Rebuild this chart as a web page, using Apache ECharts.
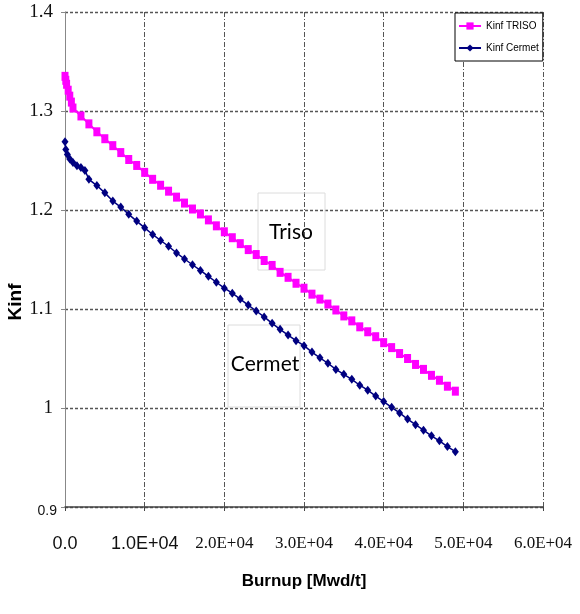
<!DOCTYPE html>
<html>
<head>
<meta charset="utf-8">
<script src="https://cdn.jsdelivr.net/npm/echarts@6/dist/echarts.min.js"></script>
<style>
html,body{margin:0;padding:0;background:#fff;}
#chart{width:580px;height:614px;}
</style>
</head>
<body>
<div id="chart"></div>
<script>
// ---- data ----
const burnupTriso = [0,100,200,400,600,800,1000,2000,3000,4000,5000,6000,7000,8000,9000,10000,11000,12000,13000,14000,15000,16000,17000,18000,19000,20000,21000,22000,23000,24000,25000,26000,27000,28000,29000,30000,31000,32000,33000,34000,35000,36000,37000,38000,39000,40000,41000,42000,43000,44000,45000,46000,47000,48000,49000];
const kinfTriso = [1.335,1.331,1.327,1.321,1.315,1.309,1.303,1.295,1.287,1.279,1.272,1.265,1.258,1.251,1.245,1.238,1.231,1.225,1.219,1.213,1.207,1.201,1.196,1.190,1.184,1.178,1.172,1.166,1.160,1.155,1.149,1.144,1.137,1.132,1.126,1.121,1.115,1.110,1.105,1.099,1.093,1.088,1.082,1.077,1.072,1.066,1.061,1.055,1.050,1.044,1.039,1.033,1.028,1.022,1.017];
const burnupCermet = [0,100,300,600,1000,1500,2000,2500,3000,4000,5000,6000,7000,8000,9000,10000,11000,12000,13000,14000,15000,16000,17000,18000,19000,20000,21000,22000,23000,24000,25000,26000,27000,28000,29000,30000,31000,32000,33000,34000,35000,36000,37000,38000,39000,40000,41000,42000,43000,44000,45000,46000,47000,48000,49000];
const kinfCermet = [1.269,1.261,1.256,1.2515,1.248,1.2447,1.243,1.240,1.231,1.2247,1.2173,1.209,1.203,1.1956,1.1888,1.182,1.1753,1.1692,1.1634,1.1566,1.1505,1.1447,1.139,1.133,1.127,1.121,1.116,1.110,1.104,1.098,1.092,1.0855,1.0795,1.0737,1.068,1.063,1.0565,1.0507,1.0452,1.039,1.034,1.029,1.023,1.018,1.012,1.0065,1.0007,0.995,0.9888,0.9831,0.9776,0.9719,0.9668,0.961,0.9559];
const seriesNames = ['Kinf TRISO','Kinf Cermet'];
const xTickLabels = ['0.0','1.0E+04','2.0E+04','3.0E+04','4.0E+04','5.0E+04','6.0E+04'];
const yTickLabels = ['0.9','1','1.1','1.2','1.3','1.4'];
const xAxisTitle = 'Burnup [Mwd/t]';
const yAxisTitle = 'Kinf';
const noteTriso = 'Triso';
const noteCermet = 'Cermet';

const zip = (a, b) => a.map((v, i) => [v, b[i]]);

const chart = echarts.init(document.getElementById('chart'), null, {renderer: 'canvas'});
const serif = "'Liberation Serif','DejaVu Serif',serif";
const sans = "'Liberation Sans',Arial,sans-serif";

const option = {
  animation: false,
  backgroundColor: '#ffffff',
  grid: {left: 65, right: 37, top: 12, bottom: 107, containLabel: false, outerBoundsMode: 'none'},
  legend: {
    orient: 'vertical',
    left: 455, top: 13,
    padding: [8, 4, 8, 3],
    itemGap: 12,
    itemWidth: 22, itemHeight: 9,
    backgroundColor: '#fff',
    borderColor: '#000', borderWidth: 1,
    textStyle: {fontFamily: sans, fontSize: 10, color: '#000'},
    data: seriesNames
  },
  xAxis: {
    type: 'value', min: 0, max: 60000, interval: 10000,
    name: xAxisTitle, nameLocation: 'middle', nameGap: 66,
    nameTextStyle: {fontFamily: sans, fontWeight: 'bold', fontSize: 17, color: '#000'},
    axisLine: {show: true, lineStyle: {color: '#444', width: 1.5}},
    axisTick: {show: true, length: 4, lineStyle: {color: '#444'}},
    splitLine: {show: true, lineStyle: {color: '#555', width: 1, type: [5, 2, 1, 2]}},
    axisLabel: {
      margin: 28,
      formatter: function (v) {
        const i = Math.round(v / 10000);
        const t = xTickLabels[i];
        return (i <= 1) ? '{s|' + t + '}' : '{r|' + t + '}';
      },
      rich: {
        s: {fontFamily: sans, fontSize: 18, color: '#111'},
        r: {fontFamily: serif, fontSize: 17, color: '#111'}
      }
    }
  },
  yAxis: {
    type: 'value', min: 0.9, max: 1.4, interval: 0.1,
    axisLine: {show: true, lineStyle: {color: '#888', width: 1}},
    axisTick: {show: true, length: 4, lineStyle: {color: '#888'}},
    splitLine: {show: true, lineStyle: {color: '#555', width: 1.3, type: [3, 2]}},
    axisLabel: {
      margin: 8,
      formatter: function (v) {
        const i = Math.round((v - 0.9) * 10);
        const t = yTickLabels[i];
        return i === 0 ? '{s|' + t + '}' : '{r|' + t + '}';
      },
      rich: {
        s: {fontFamily: sans, fontSize: 14, color: '#111', padding: [8,0,0,0]},
        r: {fontFamily: serif, fontSize: 19, color: '#111', padding: [0,4,0,0]}
      }
    }
  },
  series: [
    {
      name: seriesNames[0], type: 'line',
      data: zip(burnupTriso, kinfTriso),
      symbol: 'rect', symbolSize: [7, 9],
      itemStyle: {color: '#ff00ff'},
      lineStyle: {color: '#ff00ff', width: 2},
      z: 3
    },
    {
      name: seriesNames[1], type: 'line',
      data: zip(burnupCermet, kinfCermet),
      symbol: 'diamond', symbolSize: [7, 9],
      itemStyle: {color: '#000080'},
      lineStyle: {color: '#000080', width: 1.5},
      z: 4
    }
  ],
  graphic: [
    {type: 'text', x: 16, y: 302, rotation: Math.PI / 2, style: {text: yAxisTitle, fontFamily: sans, fontWeight: 'bold', fontSize: 19, fill: '#000', align: 'center', verticalAlign: 'middle'}, z: 5},
    {type: 'rect', shape: {x: 258, y: 193, width: 67, height: 77}, style: {fill: 'none', stroke: '#dcdcdc', lineWidth: 1}, z: 1},
    {type: 'text', x: 291, y: 232, style: {text: noteTriso, fontFamily: "Lato,'Open Sans',sans-serif", fontSize: 21, fill: '#000', align: 'center', verticalAlign: 'middle'}, z: 5},
    {type: 'rect', shape: {x: 228, y: 325, width: 72, height: 82}, style: {fill: 'none', stroke: '#dcdcdc', lineWidth: 1}, z: 1},
    {type: 'text', x: 265, y: 364, style: {text: noteCermet, fontFamily: "Lato,'Open Sans',sans-serif", fontSize: 21, fill: '#000', align: 'center', verticalAlign: 'middle'}, z: 5}
  ]
};
chart.setOption(option);
</script>
</body>
</html>
